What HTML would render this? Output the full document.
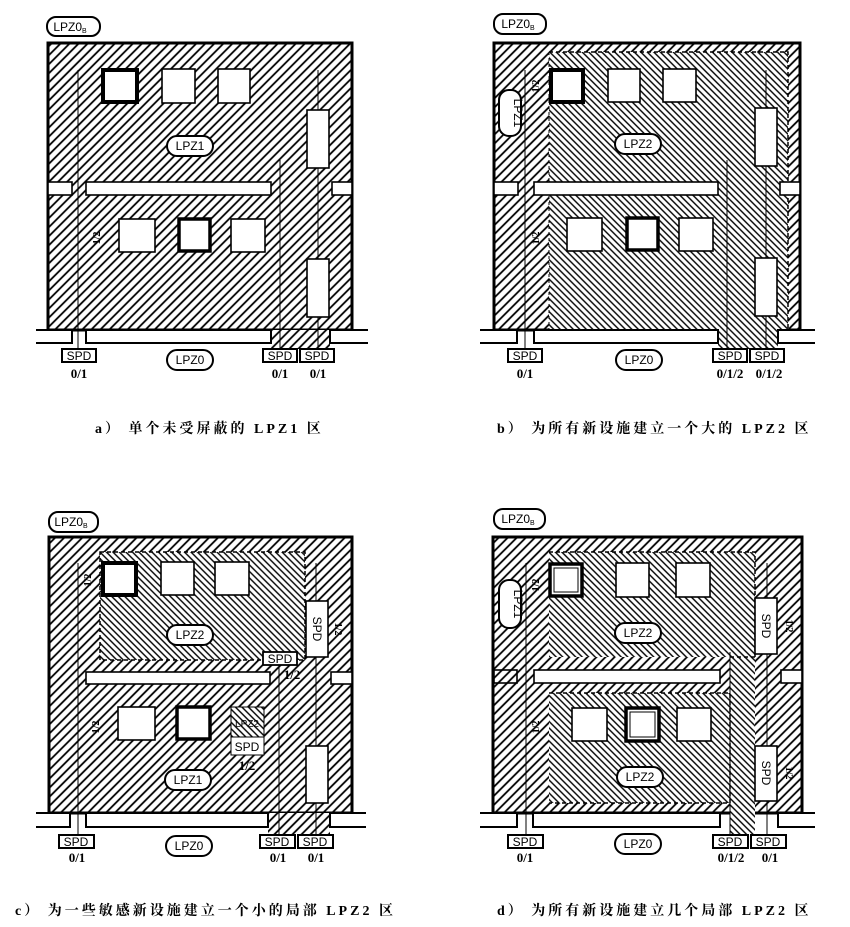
<!DOCTYPE html>
<html><head><meta charset="utf-8"><style>
html,body{margin:0;padding:0;background:#fff;width:850px;height:927px;overflow:hidden}
svg{display:block}
.p{font-family:"Liberation Sans",sans-serif;font-size:12px;text-anchor:middle}
.n{font-family:"Liberation Serif",serif;font-size:13px;font-weight:bold;text-anchor:middle}
.c{font-family:"Liberation Serif","Noto Serif CJK SC",serif;font-size:14px;font-weight:bold;letter-spacing:3px}
.s{font-family:"Liberation Serif",serif;font-size:10px;font-weight:bold;text-anchor:middle}
</style></head><body>
<svg width="850" height="927" viewBox="0 0 850 927" xmlns="http://www.w3.org/2000/svg">
<defs>
<pattern id="f" width="6.4" height="6.4" patternUnits="userSpaceOnUse" patternTransform="rotate(45)"><rect width="6.4" height="6.4" fill="#fff"/><rect x="2.3" y="0" width="1.8" height="6.4" fill="#000"/></pattern>
<pattern id="b" width="4.6" height="4.6" patternUnits="userSpaceOnUse" patternTransform="rotate(-45)"><rect width="4.6" height="4.6" fill="#fff"/><rect x="1.6" y="0" width="1.4" height="4.6" fill="#000"/></pattern>
</defs>
<g stroke="#000" fill="none">

<rect x="48" y="43" width="304" height="287" fill="url(#f)" stroke-width="3"/>
<rect x="271" y="330" width="59" height="19" fill="url(#f)" stroke="none"/>
<g stroke-width="1"><line x1="78" y1="70" x2="78" y2="349"/><line x1="280" y1="160" x2="280" y2="349"/><line x1="318" y1="70" x2="318" y2="349"/></g>
<rect x="103" y="70" width="34" height="32" fill="#fff" stroke-width="4"/>
<rect x="162" y="69" width="33" height="34" fill="#fff" stroke-width="1.6"/>
<rect x="218" y="69" width="32" height="34" fill="#fff" stroke-width="1.6"/>
<rect x="48" y="182" width="24" height="13" fill="#fff" stroke-width="1.6"/>
<rect x="86" y="182" width="185" height="13" fill="#fff" stroke-width="1.6"/>
<rect x="332" y="182" width="20" height="13" fill="#fff" stroke-width="1.6"/>
<rect x="119" y="219" width="36" height="33" fill="#fff" stroke-width="1.6"/>
<rect x="179" y="219" width="31" height="32" fill="#fff" stroke-width="3.5"/>
<rect x="231" y="219" width="34" height="33" fill="#fff" stroke-width="1.6"/>
<rect x="307" y="110" width="22" height="58" fill="#fff" stroke-width="1.6"/>
<rect x="307" y="259" width="22" height="58" fill="#fff" stroke-width="1.6"/>
<rect x="36" y="330" width="36" height="13" fill="#fff" stroke="none"/><path d="M36 330H72V343H36" stroke-width="2"/>
<rect x="86" y="330" width="185" height="13" fill="#fff" stroke-width="2"/>
<rect x="330" y="330" width="38" height="13" fill="#fff" stroke="none"/><path d="M368 330H330V343H368" stroke-width="2"/>

<rect x="494" y="43" width="306" height="287" fill="url(#f)" stroke-width="3"/>
<rect x="549" y="52" width="239" height="278" fill="url(#b)" stroke="none"/>
<rect x="718" y="330" width="60" height="19" fill="url(#b)" stroke="none"/>
<path d="M549 52H788V330" stroke-width="1.5" stroke-dasharray="4 3"/>
<path d="M549 52V330" stroke-width="1" stroke-dasharray="3 3"/>
<g stroke-width="1"><line x1="525" y1="70" x2="525" y2="349"/><line x1="727" y1="160" x2="727" y2="349"/><line x1="766" y1="70" x2="766" y2="349"/></g>
<rect x="551" y="70" width="32" height="32" fill="#fff" stroke-width="4"/>
<rect x="608" y="69" width="32" height="33" fill="#fff" stroke-width="1.6"/>
<rect x="663" y="69" width="33" height="33" fill="#fff" stroke-width="1.6"/>
<rect x="494" y="182" width="24" height="13" fill="#fff" stroke-width="1.6"/>
<rect x="534" y="182" width="184" height="13" fill="#fff" stroke-width="1.6"/>
<rect x="780" y="182" width="20" height="13" fill="#fff" stroke-width="1.6"/>
<rect x="567" y="218" width="35" height="33" fill="#fff" stroke-width="1.6"/>
<rect x="627" y="218" width="31" height="32" fill="#fff" stroke-width="3.5"/>
<rect x="679" y="218" width="34" height="33" fill="#fff" stroke-width="1.6"/>
<rect x="755" y="108" width="22" height="58" fill="#fff" stroke-width="1.6"/>
<rect x="755" y="258" width="22" height="58" fill="#fff" stroke-width="1.6"/>
<rect x="480" y="330" width="37" height="13" fill="#fff" stroke="none"/><path d="M480 330H517V343H480" stroke-width="2"/>
<rect x="534" y="330" width="184" height="13" fill="#fff" stroke-width="2"/>
<rect x="778" y="330" width="37" height="13" fill="#fff" stroke="none"/><path d="M815 330H778V343H815" stroke-width="2"/>

<rect x="49" y="537" width="303" height="276" fill="url(#f)" stroke-width="3"/>
<rect x="268" y="813" width="62" height="22" fill="url(#f)" stroke="none"/>
<rect x="100" y="552" width="205" height="108" fill="url(#b)" stroke-width="1.5" stroke-dasharray="4 3"/>
<g stroke-width="1"><line x1="78" y1="563" x2="78" y2="835"/><line x1="279" y1="660" x2="279" y2="835"/><line x1="316" y1="563" x2="316" y2="835"/></g>
<rect x="103" y="563" width="33" height="32" fill="#fff" stroke-width="4"/>
<rect x="161" y="562" width="33" height="33" fill="#fff" stroke-width="1.6"/>
<rect x="215" y="562" width="34" height="33" fill="#fff" stroke-width="1.6"/>
<rect x="86" y="672" width="184" height="12" fill="#fff" stroke-width="1.6"/>
<rect x="331" y="672" width="21" height="12" fill="#fff" stroke-width="1.6"/>
<rect x="118" y="707" width="37" height="33" fill="#fff" stroke-width="1.6"/>
<rect x="177" y="707" width="33" height="32" fill="#fff" stroke-width="3.5"/>
<rect x="231" y="707" width="33" height="30" fill="url(#b)" stroke-width="1"/>
<rect x="231" y="737" width="33" height="18" fill="#fff" stroke-width="1"/>
<rect x="306" y="601" width="22" height="56" fill="#fff" stroke-width="1.6"/>
<rect x="263" y="652" width="34" height="13" fill="#fff" stroke-width="1.8"/>
<rect x="306" y="746" width="22" height="57" fill="#fff" stroke-width="1.6"/>
<rect x="36" y="813" width="34" height="14" fill="#fff" stroke="none"/><path d="M36 813H70V827H36" stroke-width="2"/>
<rect x="86" y="813" width="182" height="14" fill="#fff" stroke-width="2"/>
<rect x="330" y="813" width="36" height="14" fill="#fff" stroke="none"/><path d="M366 813H330V827H366" stroke-width="2"/>

<rect x="493" y="537" width="309" height="276" fill="url(#f)" stroke-width="3"/>
<rect x="549" y="552" width="206" height="105" fill="url(#b)" stroke="none"/>
<rect x="549" y="693" width="181" height="110" fill="url(#b)" stroke="none"/>
<rect x="730" y="657" width="25" height="178" fill="url(#b)" stroke="none"/>
<path d="M549 552H755V657M549 693H730V803H549M730 657H755" stroke-width="1.5" stroke-dasharray="4 3"/>
<g stroke-width="1"><line x1="526" y1="563" x2="526" y2="835"/><line x1="730" y1="652" x2="730" y2="835"/><line x1="767" y1="563" x2="767" y2="835"/></g>
<rect x="550" y="564" width="32" height="32" fill="#fff" stroke-width="3.5"/>
<rect x="554" y="568" width="24" height="24" stroke-width="1"/>
<rect x="616" y="563" width="33" height="34" fill="#fff" stroke-width="1.6"/>
<rect x="676" y="563" width="34" height="34" fill="#fff" stroke-width="1.6"/>
<rect x="494" y="670" width="23" height="13" fill="url(#f)" stroke-width="1.6"/>
<rect x="534" y="670" width="186" height="13" fill="#fff" stroke-width="1.6"/>
<rect x="781" y="670" width="21" height="13" fill="#fff" stroke-width="1.6"/>
<rect x="572" y="708" width="35" height="33" fill="#fff" stroke-width="1.6"/>
<rect x="626" y="708" width="33" height="33" fill="#fff" stroke-width="3.5"/>
<rect x="630" y="712" width="25" height="25" stroke-width="1"/>
<rect x="677" y="708" width="34" height="33" fill="#fff" stroke-width="1.6"/>
<rect x="755" y="598" width="22" height="56" fill="#fff" stroke-width="1.6"/>
<rect x="755" y="746" width="22" height="55" fill="#fff" stroke-width="1.6"/>
<rect x="480" y="813" width="37" height="14" fill="#fff" stroke="none"/><path d="M480 813H517V827H480" stroke-width="2"/>
<rect x="533" y="813" width="187" height="14" fill="#fff" stroke-width="2"/>
<rect x="778" y="813" width="37" height="14" fill="#fff" stroke="none"/><path d="M815 813H778V827H815" stroke-width="2"/>

<g fill="#fff" stroke-width="2">
<rect x="47" y="17" width="53" height="19" rx="9"/>
<rect x="167" y="136" width="46" height="20" rx="10"/>
<rect x="167" y="350" width="46" height="20" rx="10"/>
<rect x="494" y="14" width="52" height="20" rx="9"/>
<rect x="499" y="90" width="22" height="46" rx="10"/>
<rect x="615" y="134" width="46" height="20" rx="10"/>
<rect x="616" y="350" width="46" height="20" rx="10"/>
<rect x="49" y="512" width="49" height="20" rx="9"/>
<rect x="167" y="625" width="46" height="20" rx="10"/>
<rect x="165" y="770" width="46" height="20" rx="10"/>
<rect x="166" y="836" width="46" height="20" rx="10"/>
<rect x="494" y="509" width="51" height="20" rx="9"/>
<rect x="499" y="580" width="22" height="48" rx="10"/>
<rect x="615" y="623" width="46" height="20" rx="10"/>
<rect x="617" y="767" width="46" height="20" rx="10"/>
<rect x="615" y="834" width="46" height="20" rx="10"/>
</g>
<g fill="#fff" stroke-width="2">
<rect x="62" y="349" width="34" height="13"/><rect x="263" y="349" width="34" height="13"/><rect x="300" y="349" width="34" height="13"/>
<rect x="508" y="349" width="34" height="13"/><rect x="713" y="349" width="34" height="13"/><rect x="750" y="349" width="34" height="13"/>
<rect x="59" y="835" width="35" height="13"/><rect x="260" y="835" width="35" height="13"/><rect x="298" y="835" width="35" height="13"/>
<rect x="508" y="835" width="35" height="13"/><rect x="713" y="835" width="35" height="13"/><rect x="751" y="835" width="35" height="13"/>
</g>
</g>

<g fill="#000">
<text class="p" x="70" y="31">LPZ0<tspan font-size="7" dy="2">B</tspan></text>
<text class="p" x="190" y="150">LPZ1</text>
<text class="p" x="190" y="364">LPZ0</text>
<text class="p" x="518" y="28">LPZ0<tspan font-size="7" dy="2">B</tspan></text>
<text class="p" transform="translate(514,113) rotate(90)">LPZ1</text>
<text class="p" x="638" y="148">LPZ2</text>
<text class="p" x="639" y="364">LPZ0</text>
<text class="p" x="71" y="526">LPZ0<tspan font-size="7" dy="2">B</tspan></text>
<text class="p" x="190" y="639">LPZ2</text>
<text class="p" x="188" y="784">LPZ1</text>
<text class="p" x="189" y="850">LPZ0</text>
<text class="p" x="518" y="523">LPZ0<tspan font-size="7" dy="2">B</tspan></text>
<text class="p" transform="translate(514,604) rotate(90)">LPZ1</text>
<text class="p" x="638" y="637">LPZ2</text>
<text class="p" x="640" y="781">LPZ2</text>
<text class="p" x="638" y="848">LPZ0</text>

<g class="p" font-size="12">
<text x="79" y="360">SPD</text><text x="280" y="360">SPD</text><text x="317" y="360">SPD</text>
<text x="525" y="360">SPD</text><text x="730" y="360">SPD</text><text x="767" y="360">SPD</text>
<text x="76" y="846">SPD</text><text x="277" y="846">SPD</text><text x="315" y="846">SPD</text>
<text x="525" y="846">SPD</text><text x="730" y="846">SPD</text><text x="768" y="846">SPD</text>
<text x="280" y="663">SPD</text><text x="247" y="751">SPD</text><text x="247" y="727" font-size="10">LPZ2</text>
<text transform="translate(313,629) rotate(90)">SPD</text>
<text transform="translate(762,626) rotate(90)">SPD</text>
<text transform="translate(762,773) rotate(90)">SPD</text>
</g>
<g class="n">
<text x="79" y="378">0/1</text><text x="280" y="378">0/1</text><text x="318" y="378">0/1</text>
<text x="525" y="378">0/1</text><text x="730" y="378">0/1/2</text><text x="769" y="378">0/1/2</text>
<text x="77" y="862">0/1</text><text x="278" y="862">0/1</text><text x="316" y="862">0/1</text>
<text x="525" y="862">0/1</text><text x="731" y="862">0/1/2</text><text x="770" y="862">0/1</text>
<text x="292" y="679">1/2</text><text x="247" y="770">1/2</text>
</g>
<g class="s">
<text transform="translate(91,580) rotate(-90)">1/2</text>
<text transform="translate(539,86) rotate(-90)">1/2</text>
<text transform="translate(539,238) rotate(-90)">1/2</text>
<text transform="translate(335,629) rotate(90)">1/2</text>
<text transform="translate(539,585) rotate(-90)">1/2</text>
<text transform="translate(539,727) rotate(-90)">1/2</text>
<text transform="translate(786,626) rotate(90)">1/2</text>
<text transform="translate(786,773) rotate(90)">1/2</text>
<text transform="translate(100,238) rotate(-90)">1/2</text>
<text transform="translate(99,727) rotate(-90)">1/2</text>
</g>

<text class="c" x="95" y="433">a）  单个未受屏蔽的 LPZ1 区</text>
<text class="c" x="497" y="433">b）  为所有新设施建立一个大的 LPZ2 区</text>
<text class="c" x="15" y="915">c）  为一些敏感新设施建立一个小的局部 LPZ2 区</text>
<text class="c" x="497" y="915">d）  为所有新设施建立几个局部 LPZ2 区</text>
</g>
</svg>
</body></html>
